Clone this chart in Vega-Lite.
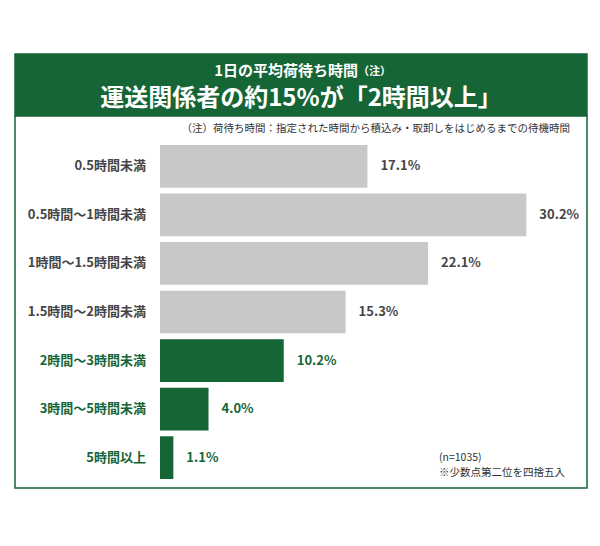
{
  "$schema": "https://vega.github.io/schema/vega-lite/v6.json",
  "background": "white",
  "bounds": "flush",
  "padding": {"left": 14, "top": 53, "right": 14, "bottom": 10},
  "spacing": 0,
  "config": {"font": "Noto Sans CJK JP", "concat": {"spacing": 0}},
  "vconcat": [
    {
      "width": 572,
      "height": 62,
      "view": {"fill": "#166537", "stroke": "#166537", "strokeWidth": 1.5},
      "data": {"values": [
        {"line": 1, "text": "1日の平均荷待ち時間"},
        {"line": 2, "text": "（注）"},
        {"line": 3, "text": "運送関係者の約15%が「2時間以上」"}
      ]},
      "layer": [
        {
          "transform": [{"filter": "datum.line === 1"}],
          "mark": {"type": "text", "color": "white", "fontSize": 15, "fontWeight": "bold", "align": "right", "baseline": "middle", "dx": 57, "dy": -14},
          "encoding": {"text": {"field": "text"}}
        },
        {
          "transform": [{"filter": "datum.line === 2"}],
          "mark": {"type": "text", "color": "white", "fontSize": 11, "fontWeight": "bold", "align": "left", "baseline": "middle", "dx": 57, "dy": -13.5},
          "encoding": {"text": {"field": "text"}}
        },
        {
          "transform": [{"filter": "datum.line === 3"}],
          "mark": {"type": "text", "color": "white", "fontSize": 24, "fontWeight": "bold", "align": "center", "baseline": "middle", "dy": 14},
          "encoding": {"text": {"field": "text"}}
        }
      ]
    },
    {
      "width": 572,
      "height": 372,
      "view": {"fill": "white", "stroke": "#166537", "strokeWidth": 1.5},
      "data": {"values": [
        {"cat": "0.5時間未満", "value": 0.171, "group": "2時間未満"},
        {"cat": "0.5時間〜1時間未満", "value": 0.302, "group": "2時間未満"},
        {"cat": "1時間〜1.5時間未満", "value": 0.221, "group": "2時間未満"},
        {"cat": "1.5時間〜2時間未満", "value": 0.153, "group": "2時間未満"},
        {"cat": "2時間〜3時間未満", "value": 0.102, "group": "2時間以上"},
        {"cat": "3時間〜5時間未満", "value": 0.040, "group": "2時間以上"},
        {"cat": "5時間以上", "value": 0.011, "group": "2時間以上"}
      ]},
      "encoding": {
        "y": {
          "field": "cat", "type": "nominal", "axis": null,
          "scale": {
            "domain": ["0.5時間未満", "0.5時間〜1時間未満", "1時間〜1.5時間未満", "1.5時間〜2時間未満", "2時間〜3時間未満", "3時間〜5時間未満", "5時間以上"],
            "range": [29, 363], "paddingInner": 0.12, "paddingOuter": 0
          }
        }
      },
      "layer": [
        {
          "mark": {"type": "bar"},
          "encoding": {
            "x": {"field": "value", "type": "quantitative", "axis": null, "scale": {"domain": [0, 0.352], "range": [145, 572], "nice": false}},
            "color": {"condition": {"test": "datum.group === '2時間以上'", "value": "#166537"}, "value": "#c8c8c8"}
          }
        },
        {
          "mark": {"type": "text", "align": "left", "baseline": "middle", "dx": 13, "fontSize": 13, "fontWeight": "bold"},
          "encoding": {
            "x": {"field": "value", "type": "quantitative"},
            "text": {"field": "value", "type": "quantitative", "format": ".1%"},
            "color": {"condition": {"test": "datum.group === '2時間以上'", "value": "#166537"}, "value": "#454545"}
          }
        },
        {
          "mark": {"type": "text", "align": "right", "baseline": "middle", "dx": -14, "fontSize": 13, "fontWeight": "bold"},
          "encoding": {
            "x": {"datum": 0, "type": "quantitative"},
            "text": {"field": "cat"},
            "color": {"condition": {"test": "datum.group === '2時間以上'", "value": "#166537"}, "value": "#454545"}
          }
        },
        {
          "data": {"values": [{"note": "（注）荷待ち時間：指定された時間から積込み・取卸しをはじめるまでの待機時間"}]},
          "mark": {"type": "text", "align": "right", "baseline": "middle", "dy": -37, "fontSize": 10.5, "color": "#333333"},
          "encoding": {
            "x": {"datum": 0.338, "type": "quantitative"},
            "y": {"datum": "0.5時間未満", "type": "nominal"},
            "text": {"field": "note"}
          }
        },
        {
          "data": {"values": [{"note": "(n=1035)"}]},
          "mark": {"type": "text", "align": "left", "baseline": "middle", "dy": 0, "fontSize": 10.5, "color": "#333333"},
          "encoding": {
            "x": {"datum": 0.23, "type": "quantitative"},
            "y": {"datum": "5時間以上", "type": "nominal"},
            "text": {"field": "note"}
          }
        },
        {
          "data": {"values": [{"note": "※少数点第二位を四捨五入"}]},
          "mark": {"type": "text", "align": "left", "baseline": "middle", "dy": 15.5, "fontSize": 10.5, "color": "#333333"},
          "encoding": {
            "x": {"datum": 0.23, "type": "quantitative"},
            "y": {"datum": "5時間以上", "type": "nominal"},
            "text": {"field": "note"}
          }
        }
      ]
    }
  ]
}
